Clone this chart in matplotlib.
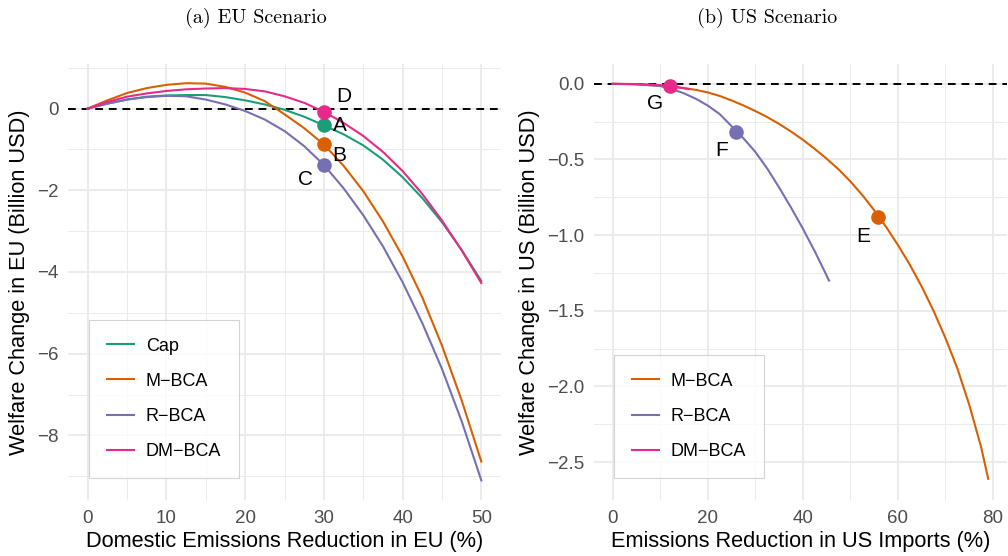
import numpy as np
import matplotlib
matplotlib.use("Agg")
from matplotlib import pyplot as plt
from matplotlib.ticker import MultipleLocator, FuncFormatter

plt.rcParams['font.family'] = ['Liberation Sans', 'DejaVu Sans']
plt.rcParams['axes.unicode_minus'] = True

# ---- EU scenario data ----
eu_x = [0, 2.5, 5, 7.5, 10, 12.5, 15, 17.5, 20, 22.5, 25, 27.5, 30, 32.5, 35, 37.5, 40, 42.5, 45, 47.5, 50]
eu_cap = [0, 0.12, 0.22, 0.29, 0.32, 0.33, 0.33, 0.28, 0.20, 0.10, -0.03, -0.20, -0.41, -0.63, -0.90, -1.25, -1.68, -2.19, -2.78, -3.46, -4.22]
eu_mbca = [0, 0.20, 0.38, 0.50, 0.58, 0.62, 0.61, 0.53, 0.39, 0.18, -0.14, -0.48, -0.88, -1.40, -2.02, -2.76, -3.62, -4.62, -5.80, -7.14, -8.64]
eu_rbca = [0, 0.12, 0.22, 0.28, 0.31, 0.30, 0.22, 0.10, -0.06, -0.27, -0.55, -0.92, -1.38, -1.95, -2.61, -3.37, -4.25, -5.25, -6.37, -7.65, -9.10]
eu_dmbca = [0, 0.16, 0.29, 0.37, 0.43, 0.47, 0.49, 0.50, 0.48, 0.42, 0.30, 0.14, -0.08, -0.35, -0.67, -1.06, -1.53, -2.09, -2.74, -3.47, -4.27]

eu_pt_names = ['A', 'B', 'C', 'D']
eu_pt_x = [30, 30, 30, 30]
eu_pt_y = [-0.41, -0.88, -1.38, -0.08]
eu_lab_x = [32.0, 32.0, 27.7, 32.5]
eu_lab_y = [-0.42, -1.15, -1.74, 0.29]

# ---- US scenario data ----
us_mbca_x = [0, 5, 10, 15, 17.5, 20, 22.5, 25, 27.5, 30, 32.5, 35, 37.5, 40, 42.5, 45, 47.5, 50,
             52.5, 55, 57.5, 60, 62.5, 65, 67.5, 70, 72.5, 75, 77.5, 79]
us_mbca = [0, -0.003, -0.012, -0.028, -0.04, -0.057, -0.08, -0.11, -0.143, -0.18, -0.22, -0.265, -0.315, -0.37,
           -0.43, -0.495, -0.565, -0.645, -0.735, -0.835, -0.945, -1.065, -1.195, -1.34, -1.50, -1.68, -1.88,
           -2.12, -2.40, -2.61]
us_rbca_x = [0, 5, 10, 12.5, 15, 17.5, 20, 22.5, 25, 27.5, 30, 32.5, 35, 37.5, 40, 42.5, 45, 45.5]
us_rbca = [0, -0.003, -0.015, -0.035, -0.063, -0.099, -0.144, -0.20, -0.28, -0.36, -0.45, -0.56, -0.685,
           -0.817, -0.957, -1.107, -1.267, -1.30]
us_dmbca_x = [0, 4, 8, 12, 16]
us_dmbca = [0, -0.001, -0.005, -0.013, -0.035]

us_pt_names = ['E', 'F', 'G']
us_pt_x = [55.8, 25.9, 12.1]
us_pt_y = [-0.877, -0.318, -0.013]
us_lab_x = [52.7, 22.8, 8.8]
us_lab_y = [-1.01, -0.44, -0.13]

COL = {'Cap': '#1B9E77', 'M\u2212BCA': '#D95F02', 'R\u2212BCA': '#7570B3', 'DM\u2212BCA': '#E7298A'}


def style_axes(ax):
    for s in ax.spines.values():
        s.set_visible(False)
    ax.grid(which='major', color='#EBEBEB', lw=1.4, zorder=0)
    ax.grid(which='minor', color='#EBEBEB', lw=0.7, zorder=0)
    ax.tick_params(which='both', length=0, labelsize=13.5, labelcolor='#4D4D4D')
    ax.tick_params(axis='y', pad=7)
    ax.tick_params(axis='x', pad=7)
    ax.set_axisbelow(True)


def add_legend(ax, anchor):
    leg = ax.legend(loc='lower left', bbox_to_anchor=anchor, borderaxespad=0,
                    fontsize=13, frameon=True, fancybox=False, edgecolor='#C8C8C8',
                    handlelength=1.5, labelspacing=1.0, borderpad=1.0, handletextpad=0.65)
    leg.get_frame().set_linewidth(0.8)
    return leg


fig = plt.figure(figsize=(10.08, 5.56), dpi=100)
ax1 = fig.add_axes([68 / 1008, 1 - 500 / 556, 433 / 1008, 436 / 556])
ax2 = fig.add_axes([594 / 1008, 1 - 500 / 556, 413 / 1008, 436 / 556])

# EU panel
ax1.axhline(0, color='black', lw=1.4, ls=(0, (4, 3)), zorder=2)
for name, ys in zip(COL.keys(), [eu_cap, eu_mbca, eu_rbca, eu_dmbca]):
    ax1.plot(eu_x, ys, color=COL[name], lw=1.5, label=name, zorder=3)
pt_cols = [COL['Cap'], COL['M\u2212BCA'], COL['R\u2212BCA'], COL['DM\u2212BCA']]
for i in range(len(eu_pt_names)):
    ax1.scatter(eu_pt_x[i], eu_pt_y[i], s=110, color=pt_cols[i], zorder=4, linewidths=0)
    ax1.text(eu_lab_x[i], eu_lab_y[i], eu_pt_names[i], fontsize=15, ha='center', va='center', zorder=5)
ax1.set_xlim(-2.5, 52.5)
ax1.set_ylim(-9.58, 1.09)
ax1.xaxis.set_major_locator(MultipleLocator(10))
ax1.xaxis.set_minor_locator(MultipleLocator(5))
ax1.yaxis.set_major_locator(MultipleLocator(2))
ax1.yaxis.set_minor_locator(MultipleLocator(1))
style_axes(ax1)
ax1.set_xlabel('Domestic Emissions Reduction in EU (%)', fontsize=15.7, labelpad=3)
ax1.set_ylabel('Welfare Change in EU (Billion USD)', fontsize=15.7, labelpad=5)
add_legend(ax1, (0.0485, 0.0505))

# US panel
ax2.axhline(0, color='black', lw=1.4, ls=(0, (4, 3)), zorder=2)
us_names = ['M\u2212BCA', 'R\u2212BCA', 'DM\u2212BCA']
for name, xs, ys in zip(us_names, [us_mbca_x, us_rbca_x, us_dmbca_x], [us_mbca, us_rbca, us_dmbca]):
    ax2.plot(xs, ys, color=COL[name], lw=1.5, label=name, zorder=3)
for i in range(len(us_pt_names)):
    ax2.scatter(us_pt_x[i], us_pt_y[i], s=110, color=COL[us_names[i]], zorder=4, linewidths=0)
    ax2.text(us_lab_x[i], us_lab_y[i], us_pt_names[i], fontsize=15, ha='center', va='center', zorder=5)
ax2.set_xlim(-3.95, 82.95)
ax2.set_ylim(-2.75, 0.131)
ax2.xaxis.set_major_locator(MultipleLocator(20))
ax2.xaxis.set_minor_locator(MultipleLocator(10))
ax2.yaxis.set_major_locator(MultipleLocator(0.5))
ax2.yaxis.set_minor_locator(MultipleLocator(0.25))
ax2.yaxis.set_major_formatter(FuncFormatter(lambda v, p: ('%.1f' % v).replace('-', '\u2212')))
style_axes(ax2)
ax2.set_xlabel('Emissions Reduction in US Imports (%)', fontsize=15.7, labelpad=3)
ax2.set_ylabel('Welfare Change in US (Billion USD)', fontsize=15.7, labelpad=5)
add_legend(ax2, (0.0483, 0.0505))

fig.text(256 / 1008, 1 - 18 / 556, '(a) EU Scenario', family='cmr10', fontsize=14.5, ha='center', va='center')
fig.text(767 / 1008, 1 - 18 / 556, '(b) US Scenario', family='cmr10', fontsize=14.5, ha='center', va='center')

fig.savefig('out.png', dpi=100)
